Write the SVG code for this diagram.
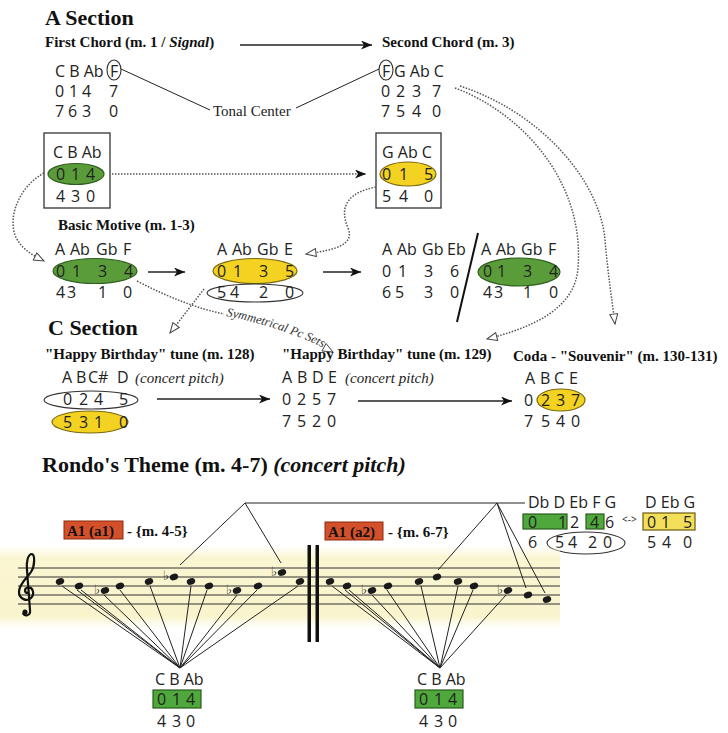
<svg xmlns="http://www.w3.org/2000/svg" width="728" height="733" viewBox="0 0 728 733">
<style>
.sf{font-family:"Open Sans","DejaVu Sans",sans-serif;font-size:16px;fill:#222}
.hd{font-family:"Liberation Serif","Times New Roman",serif;font-weight:bold;font-size:15px;fill:#111}
.big{font-size:22px}
.it{font-style:italic}
.rm{font-family:"Liberation Serif","Times New Roman",serif;font-size:15px;fill:#222}
.sol{fill:none;stroke:#222;stroke-width:1.3}
.dot{fill:none;stroke:#555;stroke-width:1.5;stroke-dasharray:1.5 1.5}
.thin{fill:none;stroke:#222;stroke-width:1}
.grn{fill:#5b9c3a;stroke:#2f5f1e;stroke-width:1.2}
.grr{fill:#4fa83b;stroke:#2b5a20;stroke-width:1.2}
.yel{fill:#f4d221;stroke:#7a6a10;stroke-width:1.2}
.ring{fill:none;stroke:#333;stroke-width:1.1}
.red{fill:#d4502a;stroke:#8a2a10;stroke-width:1}
.note{fill:#1a1a1a}
.flat{font-family:"DejaVu Sans",sans-serif;font-size:13px;fill:#1a1a1a}
.staff{stroke:#333;stroke-width:1}
</style>
<defs>
<marker id="chev" markerUnits="userSpaceOnUse" markerWidth="12" markerHeight="10" refX="11" refY="4.5" orient="auto"><path d="M0,0 L11,4.5 L0,9 L3,4.5 z" fill="#111"/></marker>
<marker id="tri" markerUnits="userSpaceOnUse" markerWidth="13" markerHeight="10" refX="11" refY="4.5" orient="auto"><path d="M1,0.5 L11,4.5 L1,8.5 z" fill="#fff" stroke="#444" stroke-width="1"/></marker>
<linearGradient id="band" x1="0" y1="0" x2="0" y2="1"><stop offset="0" stop-color="#fbf8dc" stop-opacity="0"/><stop offset="0.15" stop-color="#faf6d2"/><stop offset="0.85" stop-color="#f9f4cc"/><stop offset="1" stop-color="#fbf8dc" stop-opacity="0"/></linearGradient>
<path id="sympath" d="M226,316 Q278,326 324,348"/>
</defs>
<rect width="728" height="733" fill="#fff"/>

<g id="headers">
<text class="hd big" x="45" y="25">A Section</text>
<text class="hd" x="45" y="47">First Chord (m. 1 / <tspan class="it">Signal</tspan>)</text>
<text class="hd" x="382" y="47">Second Chord (m. 3)</text>
<text class="rm" x="213" y="116">Tonal Center</text>
<text class="hd" x="58" y="230">Basic Motive (m. 1-3)</text>
<text class="hd big" x="48" y="335">C Section</text>
<text class="hd" x="45" y="359">"Happy Birthday" tune (m. 128)</text>
<text class="hd" x="282" y="359">"Happy Birthday" tune (m. 129)</text>
<text class="hd" x="513" y="361">Coda - "Souvenir" (m. 130-131)</text>
<text class="hd big" x="42" y="472">Rondo's Theme (m. 4-7) <tspan class="it">(concert pitch)</tspan></text>
</g>

<g id="first-chord">
<text class="sf" x="55" y="77">C B Ab</text>
<ellipse class="ring" cx="114" cy="70" rx="7" ry="10"/>
<text class="sf" x="110" y="77">F</text>
<text class="sf" y="97"><tspan x="55">0</tspan> <tspan x="69">1</tspan> <tspan x="82">4</tspan> <tspan x="109">7</tspan></text>
<text class="sf" y="117"><tspan x="55">7</tspan> <tspan x="68">6</tspan> <tspan x="82">3</tspan> <tspan x="109">0</tspan></text>
</g>

<g id="second-chord">
<ellipse class="ring" cx="386" cy="70" rx="7" ry="10"/>
<text class="sf" x="382" y="77">F</text>
<text class="sf" x="394" y="77">G Ab C</text>
<text class="sf" y="97"><tspan x="381">0</tspan> <tspan x="396">2</tspan> <tspan x="412">3</tspan> <tspan x="432">7</tspan></text>
<text class="sf" y="117"><tspan x="381">7</tspan> <tspan x="396">5</tspan> <tspan x="412">4</tspan> <tspan x="432">0</tspan></text>
</g>

<g id="box1">
<rect x="44" y="133" width="66" height="75" fill="none" stroke="#333" stroke-width="1.3"/>
<text class="sf" x="53" y="158">C B Ab</text>
<ellipse class="grn" cx="76" cy="174" rx="28" ry="10.5"/>
<text class="sf" y="180"><tspan x="56">0</tspan> <tspan x="71">1</tspan> <tspan x="86">4</tspan></text>
<text class="sf" y="202"><tspan x="56">4</tspan> <tspan x="71">3</tspan> <tspan x="86">0</tspan></text>
</g>

<g id="box2">
<rect x="376" y="133" width="65" height="75" fill="none" stroke="#333" stroke-width="1.3"/>
<text class="sf" x="382" y="158">G Ab C</text>
<ellipse class="yel" cx="408" cy="174" rx="28" ry="12"/>
<text class="sf" y="180"><tspan x="382">0</tspan> <tspan x="399">1</tspan> <tspan x="424">5</tspan></text>
<text class="sf" y="202"><tspan x="382">5</tspan> <tspan x="399">4</tspan> <tspan x="424">0</tspan></text>
</g>

<g id="motive1">
<text class="sf" y="255"><tspan x="55">A</tspan> <tspan x="70">Ab</tspan> <tspan x="96">Gb</tspan> <tspan x="123">F</tspan></text>
<ellipse class="grn" cx="95" cy="271" rx="42" ry="12.5"/>
<text class="sf" y="277"><tspan x="56">0</tspan> <tspan x="72">1</tspan> <tspan x="98">3</tspan> <tspan x="124">4</tspan></text>
<text class="sf" y="298"><tspan x="56">4</tspan> <tspan x="67">3</tspan> <tspan x="98">1</tspan> <tspan x="123">0</tspan></text>
</g>

<g id="motive2">
<text class="sf" y="255"><tspan x="217">A</tspan> <tspan x="232">Ab</tspan> <tspan x="257">Gb</tspan> <tspan x="284">E</tspan></text>
<ellipse class="yel" cx="255" cy="271" rx="42" ry="12.5"/>
<text class="sf" y="277"><tspan x="217">0</tspan> <tspan x="233">1</tspan> <tspan x="259">3</tspan> <tspan x="285">5</tspan></text>
<ellipse class="ring" cx="255" cy="293" rx="48" ry="9"/>
<text class="sf" y="298"><tspan x="217">5</tspan> <tspan x="230">4</tspan> <tspan x="259">2</tspan> <tspan x="285">0</tspan></text>
</g>

<g id="motive3">
<text class="sf" y="255"><tspan x="382">A</tspan> <tspan x="397">Ab</tspan> <tspan x="422">Gb</tspan> <tspan x="447">Eb</tspan></text>
<text class="sf" y="277"><tspan x="382">0</tspan> <tspan x="398">1</tspan> <tspan x="424">3</tspan> <tspan x="450">6</tspan></text>
<text class="sf" y="298"><tspan x="382">6</tspan> <tspan x="395">5</tspan> <tspan x="424">3</tspan> <tspan x="450">0</tspan></text>
<line x1="478" y1="233" x2="457" y2="322" stroke="#111" stroke-width="2"/>
<text class="sf" y="255"><tspan x="481">A</tspan> <tspan x="496">Ab</tspan> <tspan x="521">Gb</tspan> <tspan x="548">F</tspan></text>
<ellipse class="grn" cx="519" cy="272" rx="41" ry="14"/>
<text class="sf" y="277"><tspan x="483">0</tspan> <tspan x="497">1</tspan> <tspan x="523">3</tspan> <tspan x="549">4</tspan></text>
<text class="sf" y="298"><tspan x="483">4</tspan> <tspan x="494">3</tspan> <tspan x="523">1</tspan> <tspan x="549">0</tspan></text>
</g>

<g id="hb128">
<text class="sf" y="383"><tspan x="62">A</tspan> <tspan x="76">B</tspan> <tspan x="88">C#</tspan> <tspan x="117">D</tspan> <tspan class="rm it" x="135">(concert pitch)</tspan></text>
<ellipse class="ring" cx="91" cy="400" rx="47" ry="9"/>
<text class="sf" y="405"><tspan x="63">0</tspan> <tspan x="79">2</tspan> <tspan x="94">4</tspan> <tspan x="119">5</tspan></text>
<ellipse class="yel" cx="90" cy="422" rx="38" ry="11"/>
<text class="sf" y="428"><tspan x="63">5</tspan> <tspan x="79">3</tspan> <tspan x="94">1</tspan> <tspan x="119">0</tspan></text>
</g>

<g id="hb129">
<text class="sf" y="383"><tspan x="282">A</tspan> <tspan x="297">B</tspan> <tspan x="312">D</tspan> <tspan x="328">E</tspan> <tspan class="rm it" x="345">(concert pitch)</tspan></text>
<text class="sf" y="405"><tspan x="282">0</tspan> <tspan x="297">2</tspan> <tspan x="312">5</tspan> <tspan x="327">7</tspan></text>
<text class="sf" y="427"><tspan x="282">7</tspan> <tspan x="297">5</tspan> <tspan x="312">2</tspan> <tspan x="327">0</tspan></text>
</g>

<g id="coda">
<text class="sf" y="384"><tspan x="525">A</tspan> <tspan x="540">B</tspan> <tspan x="554">C</tspan> <tspan x="569">E</tspan></text>
<ellipse class="yel" cx="561" cy="400" rx="24" ry="11"/>
<text class="sf" y="406"><tspan x="524">0</tspan> <tspan x="541">2</tspan> <tspan x="556">3</tspan> <tspan x="571">7</tspan></text>
<text class="sf" y="427"><tspan x="524">7</tspan> <tspan x="541">5</tspan> <tspan x="556">4</tspan> <tspan x="571">0</tspan></text>
</g>

<g id="rondo-a1">
<rect class="red" x="64" y="521" width="59" height="18"/>
<text class="hd" x="67" y="536" fill="#3a0c00">A1 (a1)</text>
<text class="hd" x="127" y="536"> - {m. 4-5}</text>
</g>
<g id="rondo-a2">
<rect class="red" x="325" y="522" width="58" height="18"/>
<text class="hd" x="328" y="537" fill="#3a0c00">A1 (a2)</text>
<text class="hd" x="388" y="537"> - {m. 6-7}</text>
</g>

<g id="set-right">
<text class="sf" x="528" y="508">Db D Eb F G</text>
<rect class="grr" x="523" y="514" width="44" height="15"/>
<rect class="grr" x="586" y="514" width="18" height="15"/>
<text class="sf" y="528"><tspan x="528">0</tspan> <tspan x="558">1</tspan> <tspan x="570">2</tspan> <tspan x="590">4</tspan> <tspan x="605">6</tspan></text>
<ellipse class="ring" cx="586" cy="543" rx="39" ry="11"/>
<text class="sf" y="548"><tspan x="528">6</tspan> <tspan x="555">5</tspan> <tspan x="568">4</tspan> <tspan x="588">2</tspan> <tspan x="603">0</tspan></text>
<text class="sf" x="622" y="523" style="font-size:10px">&lt;-&gt;</text>
<text class="sf" x="645" y="508">D Eb G</text>
<rect x="643" y="513" width="52" height="17" fill="#f3df5a" stroke="#6a5a10" stroke-width="1.2"/>
<text class="sf" y="528"><tspan x="647">0</tspan> <tspan x="661">1</tspan> <tspan x="683">5</tspan></text>
<text class="sf" y="548"><tspan x="647">5</tspan> <tspan x="662">4</tspan> <tspan x="683">0</tspan></text>
</g>

<g id="staff">
<rect x="0" y="545" width="560" height="84" fill="url(#band)"/>
<g class="staff">
<line x1="18" y1="568" x2="560" y2="568"/>
<line x1="18" y1="577" x2="560" y2="577"/>
<line x1="18" y1="586" x2="560" y2="586"/>
<line x1="18" y1="595" x2="560" y2="595"/>
<line x1="18" y1="604" x2="560" y2="604"/>
</g>
<path d="M28,593 C24,593 24,588 28,587.5 C33,587 35,594 31,598 C27,602 19,599 19,592 C19,584 27,578 31,572 C35,566 35,555 32,554 C28,554 26,562 27,570 L30,610 C31,616 24,617 23,613" fill="none" stroke="#111" stroke-width="2.2"/>
<circle cx="25" cy="612" r="2.6" fill="#111"/>
<rect x="307.5" y="545" width="3.5" height="97" fill="#111"/>
<rect x="315.5" y="545" width="3.5" height="97" fill="#111"/>
<g class="note">
<ellipse cx="60" cy="581.5" rx="4.3" ry="3.2" transform="rotate(-20 60 581.5)"/>
<ellipse cx="79" cy="586" rx="4.3" ry="3.2" transform="rotate(-20 79 586)"/>
<ellipse cx="105" cy="590.5" rx="4.3" ry="3.2" transform="rotate(-20 105 590.5)"/>
<ellipse cx="120" cy="586" rx="4.3" ry="3.2" transform="rotate(-20 120 586)"/>
<ellipse cx="149" cy="581.5" rx="4.3" ry="3.2" transform="rotate(-20 149 581.5)"/>
<ellipse cx="174" cy="577" rx="4.3" ry="3.2" transform="rotate(-20 174 577)"/>
<ellipse cx="191" cy="581.5" rx="4.3" ry="3.2" transform="rotate(-20 191 581.5)"/>
<ellipse cx="209" cy="586" rx="4.3" ry="3.2" transform="rotate(-20 209 586)"/>
<ellipse cx="237" cy="590.5" rx="4.3" ry="3.2" transform="rotate(-20 237 590.5)"/>
<ellipse cx="258" cy="586" rx="4.3" ry="3.2" transform="rotate(-20 258 586)"/>
<ellipse cx="282" cy="572.5" rx="4.3" ry="3.2" transform="rotate(-20 282 572.5)"/>
<ellipse cx="300" cy="581.5" rx="4.3" ry="3.2" transform="rotate(-20 300 581.5)"/>
<ellipse cx="330" cy="581.5" rx="4.3" ry="3.2" transform="rotate(-20 330 581.5)"/>
<ellipse cx="347" cy="586" rx="4.3" ry="3.2" transform="rotate(-20 347 586)"/>
<ellipse cx="372" cy="590.5" rx="4.3" ry="3.2" transform="rotate(-20 372 590.5)"/>
<ellipse cx="388" cy="586" rx="4.3" ry="3.2" transform="rotate(-20 388 586)"/>
<ellipse cx="419" cy="581.5" rx="4.3" ry="3.2" transform="rotate(-20 419 581.5)"/>
<ellipse cx="437" cy="577" rx="4.3" ry="3.2" transform="rotate(-20 437 577)"/>
<ellipse cx="458" cy="581.5" rx="4.3" ry="3.2" transform="rotate(-20 458 581.5)"/>
<ellipse cx="474" cy="586" rx="4.3" ry="3.2" transform="rotate(-20 474 586)"/>
<ellipse cx="508" cy="590.5" rx="4.3" ry="3.2" transform="rotate(-20 508 590.5)"/>
<ellipse cx="528" cy="595" rx="4.3" ry="3.2" transform="rotate(-20 528 595)"/>
<ellipse cx="547" cy="599.5" rx="4.3" ry="3.2" transform="rotate(-20 547 599.5)"/>
</g>
<text class="flat" x="94" y="594">♭</text>
<text class="flat" x="163" y="580">♭</text>
<text class="flat" x="226" y="594">♭</text>
<text class="flat" x="271" y="576">♭</text>
<text class="flat" x="361" y="594">♭</text>
<text class="flat" x="497" y="594">♭</text>
</g>

<g id="bottom-left">
<text class="sf" x="155" y="685">C B Ab</text>
<rect class="grr" x="153" y="690" width="48" height="18"/>
<text class="sf" y="705"><tspan x="157">0</tspan> <tspan x="172">1</tspan> <tspan x="186">4</tspan></text>
<text class="sf" y="727"><tspan x="157">4</tspan> <tspan x="172">3</tspan> <tspan x="186">0</tspan></text>
</g>
<g id="bottom-right">
<text class="sf" x="417" y="685">C B Ab</text>
<rect class="grr" x="415" y="690" width="48" height="18"/>
<text class="sf" y="705"><tspan x="419">0</tspan> <tspan x="434">1</tspan> <tspan x="448">4</tspan></text>
<text class="sf" y="727"><tspan x="419">4</tspan> <tspan x="434">3</tspan> <tspan x="448">0</tspan></text>
</g>

<g id="connectors">
<line class="sol" x1="240" y1="45" x2="372" y2="45" marker-end="url(#chev)"/>
<line class="thin" x1="121" y1="69" x2="210" y2="110"/>
<line class="thin" x1="379" y1="69" x2="296" y2="108"/>
<path class="dot" d="M112,174 L366,174" marker-end="url(#chev)"/>
<path class="dot" d="M44,173 C20,186 8,215 15,235 C20,248 32,255 44,261" marker-end="url(#tri)"/>
<path class="dot" d="M376,187 C350,192 338,205 348,228 C355,245 335,250 306,254" marker-end="url(#tri)"/>
<path class="dot" d="M455,88 C520,112 585,180 578,268 C575,310 530,328 487,339" marker-end="url(#tri)"/>
<path class="dot" d="M460,86 C540,112 600,180 605,240 C608,275 612,300 615,324" marker-end="url(#tri)"/>
<line class="sol" x1="148" y1="272" x2="185" y2="272" marker-end="url(#chev)"/>
<line class="sol" x1="323" y1="272" x2="361" y2="272" marker-end="url(#chev)"/>
<path class="dot" d="M137,281 Q185,306 224,314"/>
<text class="rm it" style="font-size:12.5px;fill:#333"><textPath href="#sympath">Symmetrical Pc Sets</textPath></text>
<polygon points="333,352 322,351 326,343.5" fill="#fff" stroke="#444" stroke-width="1"/>
<path class="dot" d="M204,289 L170,333" marker-end="url(#tri)"/>
<line class="sol" x1="157" y1="399" x2="270" y2="399" marker-end="url(#chev)"/>
<line class="sol" x1="358" y1="401" x2="512" y2="401" marker-end="url(#chev)"/>
<g class="thin">
<polyline points="180,565 245,503 525,503"/>
<line x1="245" y1="503" x2="281" y2="563"/>
<line x1="438" y1="570" x2="497" y2="503"/>
<line x1="497" y1="503" x2="526" y2="588"/>
<line x1="497" y1="503" x2="545" y2="593"/>
<line x1="62" y1="586" x2="180" y2="668"/>
<line x1="77" y1="590" x2="180" y2="668"/>
<line x1="81" y1="590" x2="180" y2="668"/>
<line x1="104" y1="595" x2="180" y2="668"/>
<line x1="120" y1="590" x2="180" y2="668"/>
<line x1="150" y1="586" x2="180" y2="668"/>
<line x1="191" y1="586" x2="180" y2="668"/>
<line x1="207" y1="590" x2="180" y2="668"/>
<line x1="237" y1="595" x2="180" y2="668"/>
<line x1="257" y1="590" x2="180" y2="668"/>
<line x1="298" y1="586" x2="180" y2="668"/>
<line x1="332" y1="586" x2="440" y2="668"/>
<line x1="345" y1="590" x2="440" y2="668"/>
<line x1="349" y1="590" x2="440" y2="668"/>
<line x1="372" y1="595" x2="440" y2="668"/>
<line x1="387" y1="590" x2="440" y2="668"/>
<line x1="421" y1="586" x2="440" y2="668"/>
<line x1="458" y1="586" x2="440" y2="668"/>
<line x1="473" y1="590" x2="440" y2="668"/>
<line x1="506" y1="595" x2="440" y2="668"/>
</g>
</g>
</svg>
